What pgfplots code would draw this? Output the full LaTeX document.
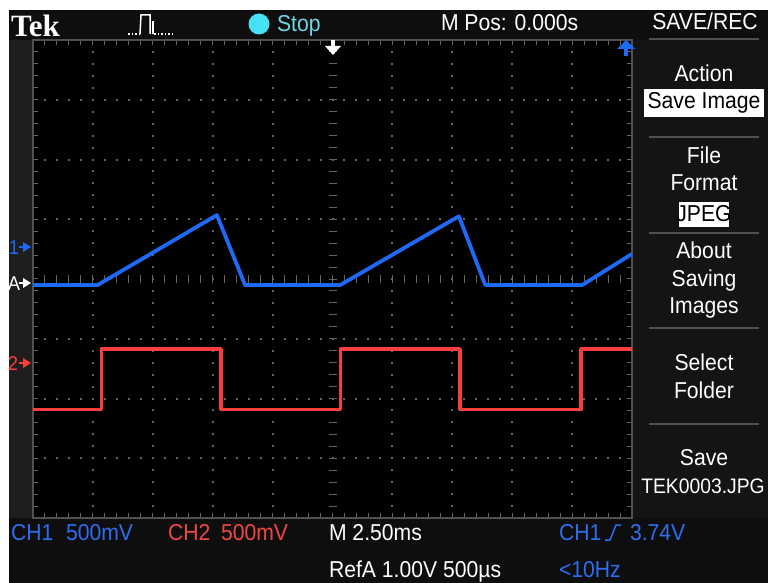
\documentclass[border=0pt]{standalone}
\usepackage{pgfplots}
\pgfplotsset{compat=1.18}
\usepackage{fontspec}
\newfontfamily\scopefont[FakeStretch=0.92]{Liberation Sans}
\newfontfamily\tekfont{Liberation Serif}
\newcommand\sz{\fontsize{23}{23}\selectfont}
\newcommand\smsz{\fontsize{20}{20}\selectfont}
\definecolor{scopeblue}{RGB}{30,105,245}
\definecolor{scopered}{RGB}{250,62,62}
\definecolor{textblue}{RGB}{45,110,240}
\definecolor{textred}{RGB}{240,70,70}
\definecolor{cyanstop}{RGB}{70,225,245}
\definecolor{stoptext}{RGB}{110,215,230}
\definecolor{bgdark}{RGB}{14,14,14}
\definecolor{leftstrip}{RGB}{30,30,30}
\definecolor{panel}{RGB}{20,20,20}
\definecolor{gridgray}{RGB}{100,100,100}
\definecolor{sepgray}{RGB}{80,80,80}

\pgfplotstableread{
x y
-5.00 -0.10
-3.92 -0.10
-1.93 1.07
-1.46 -0.10
0.13 -0.10
2.11 1.05
2.55 -0.10
4.17 -0.10
5.00 0.42
}\chone

\pgfplotstableread{
x y
-5.00 -2.18
-3.86 -2.18
-3.86 -1.17
-1.86 -1.17
-1.86 -2.18
0.13 -2.18
0.13 -1.17
2.13 -1.17
2.13 -2.18
4.15 -2.18
4.15 -1.17
5.00 -1.17
}\chtwo

\begin{document}
\begin{tikzpicture}
\useasboundingbox (0pt,0pt) rectangle (768pt,-583pt);
\begin{scope}[x=1pt,y=-1pt]
\fill[white] (0,0) rectangle (768,583);
\fill[bgdark] (9,10) rectangle (768,583);
\fill[leftstrip] (9,40) rectangle (33,518);
\fill[panel] (632,40) rectangle (768,518);
\fill[black] (33,40) rectangle (632,518);
% grid dots
\foreach \i in {1,2,3,4,6,7,8,9} {
  \foreach \j in {1,...,39} {
    \fill[gridgray] ({33+\i*59.9-1},{40+\j*11.95-1}) rectangle ++(2,2);
  }
}
\foreach \j in {1,2,3,5,6,7} {
  \foreach \i in {1,...,49} {
    \fill[gridgray] ({33+\i*11.98-1},{40+\j*59.75-1}) rectangle ++(2,2);
  }
}
% centre cross ticks
\foreach \i in {1,...,49} \draw[gridgray,line width=1pt] ({33+\i*11.98},275) -- ++(0,8);
\foreach \j in {1,...,39} \draw[gridgray,line width=1pt] (329,{40+\j*11.95}) -- ++(8,0);
\end{scope}

\begin{axis}[
  at={(33pt,-40pt)}, anchor=north west,
  width=599pt, height=478pt, scale only axis,
  xmin=-5, xmax=5, ymin=-4, ymax=4,
  xtick={-5,...,5}, ytick={-4,...,4},
  minor x tick num=4, minor y tick num=4,
  xticklabel=\empty, yticklabel=\empty,
  tick align=inside,
  major tick length=5pt, minor tick length=5pt,
  tick style={draw=gridgray, line width=1pt},
  axis line style={draw=sepgray, line width=1.2pt},
  clip=true,
]
\addplot[scopered, line width=3.2pt, line join=round] table {\chtwo};
\addplot[scopeblue, line width=3.8pt, line join=round] table {\chone};
\end{axis}

\begin{scope}[x=1pt,y=-1pt, every node/.style={inner sep=0pt, outer sep=0pt}]
% top bar
\node[anchor=base west, text=white, font=\tekfont\bfseries\fontsize{31}{31}\selectfont] at (11,37) {Tek};
\draw[white, line width=1.5pt, dotted] (128,34) -- (140,34);
\draw[white, line width=1.5pt] (140,34) -- (141,15) -- (150,15) -- (150,34);
\draw[white, line width=1.5pt] (153,34) -- (153,21);
\draw[white, line width=1.5pt, dotted] (154,34) -- (172,34);
\fill[cyanstop] (259,24) circle (10.5);
\node[anchor=base west, text=stoptext, font=\scopefont\sz] at (277,32) {Stop};
\node[anchor=base west, text=white, font=\scopefont\sz] at (441,31) {M Pos: 0.000s};
\node[anchor=base, text=white, font=\scopefont\sz] at (705,30) {SAVE/REC};
% markers on graticule top
\fill[white] (331,40) rectangle (335,47);
\fill[white] (325,46) -- (341,46) -- (333,55) -- cycle;
\fill[scopeblue] (617,49) -- (635,49) -- (626,40) -- cycle;
\fill[scopeblue] (624,48) rectangle (628,56);
% right menu
\foreach \yy in {39,137,233,328,424} \draw[sepgray, line width=2pt] (649,\yy) -- (759,\yy);
\node[anchor=base, text=white, font=\scopefont\sz] at (704,82) {Action};
\fill[white] (644,89) rectangle (764,117);
\node[anchor=base, text=black, font=\scopefont\sz] at (704,109) {Save Image};
\node[anchor=base, text=white, font=\scopefont\sz] at (704,163) {File};
\node[anchor=base, text=white, font=\scopefont\sz] at (704,190) {Format};
\fill[white] (679,202) rectangle (729,227);
\node[anchor=base, text=black, font=\scopefont\sz] at (704,221) {JPEG};
\node[anchor=base, text=white, font=\scopefont\sz] at (704,258) {About};
\node[anchor=base, text=white, font=\scopefont\sz] at (704,286) {Saving};
\node[anchor=base, text=white, font=\scopefont\sz] at (704,313) {Images};
\node[anchor=base, text=white, font=\scopefont\sz] at (704,370) {Select};
\node[anchor=base, text=white, font=\scopefont\sz] at (704,398) {Folder};
\node[anchor=base, text=white, font=\scopefont\sz] at (704,465) {Save};
\node[anchor=base, text=white, font=\scopefont\fontsize{21}{21}\selectfont] at (703,493) {TEK0003.JPG};
% left channel markers
\node[anchor=base west, text=scopeblue, font=\scopefont\smsz] at (9,254) {1};
\draw[scopeblue, line width=2pt] (19,247) -- (25,247);
\fill[scopeblue] (23,242) -- (31,247) -- (23,252) -- cycle;
\node[anchor=base west, text=white, font=\scopefont\smsz] at (8,290) {A};
\draw[white, line width=2pt] (19,283) -- (25,283);
\fill[white] (23,278) -- (31,283) -- (23,288) -- cycle;
\node[anchor=base west, text=scopered, font=\scopefont\smsz] at (8,370) {2};
\draw[scopered, line width=2pt] (19,363) -- (25,363);
\fill[scopered] (23,358) -- (31,363) -- (23,368) -- cycle;
% bottom bar
\node[anchor=base west, text=textblue, font=\scopefont\sz] at (11,540) {CH1};
\node[anchor=base west, text=textblue, font=\scopefont\sz] at (66,540) {500mV};
\node[anchor=base west, text=textred, font=\scopefont\sz] at (168,540) {CH2};
\node[anchor=base west, text=textred, font=\scopefont\sz] at (221,540) {500mV};
\node[anchor=base west, text=white, font=\scopefont\sz] at (329,540) {M 2.50ms};
\node[anchor=base west, text=textblue, font=\scopefont\sz] at (559,540) {CH1};
\draw[textblue, line width=1.5pt] (605,540) -- (610,540) -- (616,525) -- (621,525);
\node[anchor=base west, text=textblue, font=\scopefont\sz] at (630,540) {3.74V};
\node[anchor=base west, text=white, font=\scopefont\sz] at (329,577) {RefA 1.00V 500µs};
\node[anchor=base west, text=textblue, font=\scopefont\sz] at (559,577) {<10Hz};
\end{scope}
\end{tikzpicture}
\end{document}
